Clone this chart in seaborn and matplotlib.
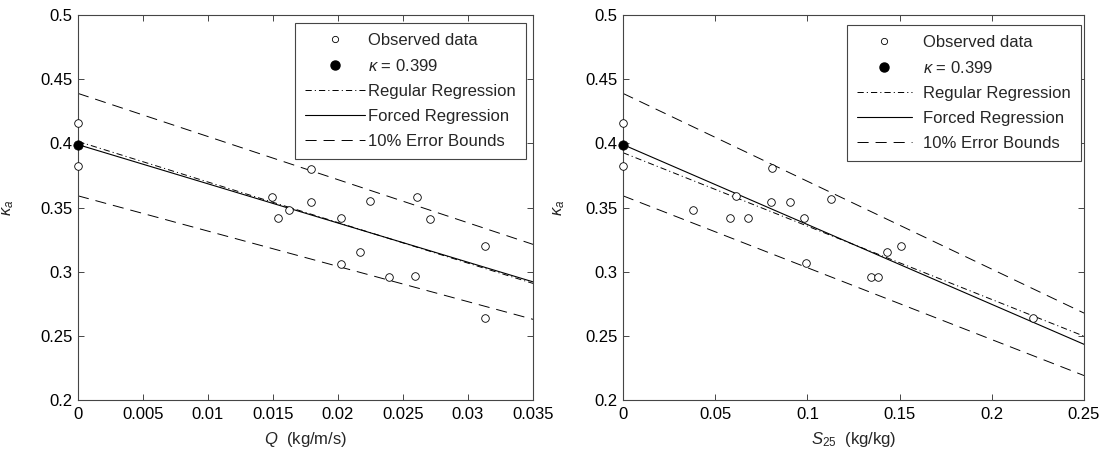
import numpy as np
import matplotlib
matplotlib.use("Agg")
import matplotlib.pyplot as plt
from matplotlib.lines import Line2D
from matplotlib.ticker import FormatStrFormatter
import seaborn as sns

# Reference von Karman value and relative error band
kappa_ref = 0.399
err_frac = 0.10

# Apparent kappa against saltation flux Q
q_flux = [0.0, 0.0, 0.0149, 0.0154, 0.0162, 0.0179, 0.0179, 0.0202, 0.0202,
          0.0217, 0.0225, 0.0239, 0.0259, 0.0261, 0.0271, 0.0313, 0.0313]
kappa_q = [0.416, 0.382, 0.358, 0.342, 0.348, 0.380, 0.354, 0.342, 0.306,
           0.315, 0.355, 0.296, 0.297, 0.358, 0.341, 0.320, 0.264]

# Apparent kappa against mass ratio S25
s25 = [0.0, 0.0, 0.0382, 0.0578, 0.0612, 0.0678, 0.0808, 0.0801, 0.0904,
       0.0984, 0.0991, 0.1127, 0.1346, 0.1382, 0.1431, 0.1505, 0.2225]
kappa_s = [0.416, 0.382, 0.348, 0.342, 0.359, 0.342, 0.381, 0.354, 0.354,
           0.342, 0.307, 0.357, 0.296, 0.296, 0.315, 0.320, 0.264]

y_ticks = [0.2, 0.25, 0.3, 0.35, 0.4, 0.45, 0.5]
q_ticks = [0, 0.005, 0.01, 0.015, 0.02, 0.025, 0.03, 0.035]
s_ticks = [0, 0.05, 0.1, 0.15, 0.2, 0.25]

sns.set_style("ticks")
plt.rcParams["font.family"] = ["Liberation Sans", "DejaVu Sans"]
plt.rcParams["mathtext.fontset"] = "custom"
plt.rcParams["mathtext.rm"] = "Liberation Sans"
plt.rcParams["mathtext.it"] = "Liberation Sans:italic"
plt.rcParams["lines.scale_dashes"] = False

SPINE = "#454545"
DASH = (8, 5)
DASHDOT = (4.5, 2.2, 0.8, 2.2)

fig = plt.figure(figsize=(11.03, 4.54), dpi=100)
ax_q = fig.add_axes([78 / 1103, 54 / 454, 455 / 1103, 385 / 454])
ax_s = fig.add_axes([623 / 1103, 54 / 454, 461 / 1103, 385 / 454])


def draw_panel(ax, x, y, xticks, xlabel, label_x, legend_anchor, hl, htp):
    x = np.asarray(x, float)
    y = np.asarray(y, float)
    ax.set_xlim(xticks[0], xticks[-1])
    ax.set_ylim(y_ticks[0], y_ticks[-1])

    # Ordinary least squares fit over the full axis range
    sns.regplot(x=x, y=y, ax=ax, scatter=False, ci=None, truncate=False,
                line_kws=dict(color="black", lw=0.7, dashes=DASHDOT))

    # Fit constrained to pass through the reference kappa at zero
    slope = np.sum(x * (y - kappa_ref)) / np.sum(x * x)
    xx = np.array(ax.get_xlim())
    forced = kappa_ref + slope * xx
    ax.plot(xx, forced, color="black", lw=0.8)
    ax.plot(xx, forced * (1 + err_frac), color="black", lw=0.7, dashes=DASH)
    ax.plot(xx, forced * (1 - err_frac), color="black", lw=0.7, dashes=DASH)

    sns.scatterplot(x=x, y=y, ax=ax, marker="o", s=30, facecolor="white",
                    edgecolor="black", linewidth=0.6, clip_on=False, zorder=5)
    sns.scatterplot(x=[0.0], y=[kappa_ref], ax=ax, marker="o", s=45,
                    color="black", edgecolor="black", clip_on=False, zorder=6)

    ax.set_xticks(xticks)
    ax.set_yticks(y_ticks)
    ax.xaxis.set_major_formatter(FormatStrFormatter("%g"))
    ax.yaxis.set_major_formatter(FormatStrFormatter("%g"))
    ax.tick_params(direction="in", length=4.5, width=0.7, colors=SPINE,
                   labelcolor="black", labelsize=12, top=True, right=True)
    ax.tick_params(axis="x", pad=5)
    ax.tick_params(axis="y", pad=4)
    for sp in ax.spines.values():
        sp.set_visible(True)
        sp.set_color(SPINE)
        sp.set_linewidth(0.8)

    ax.set_xlabel(xlabel, fontsize=12, labelpad=6)
    ax.set_ylabel(r"$\kappa_a$", fontsize=12)
    ax.yaxis.set_label_coords(label_x, 0.5)

    handles = [
        Line2D([], [], ls="none", marker="o", ms=4.5, mfc="white",
               mec="black", mew=0.6),
        Line2D([], [], ls="none", marker="o", ms=6.5, mfc="black",
               mec="black"),
        Line2D([], [], color="black", lw=0.7, dashes=DASHDOT),
        Line2D([], [], color="black", lw=0.8),
        Line2D([], [], color="black", lw=0.7, dashes=DASH),
    ]
    labels = ["Observed data", r"$\kappa$ = 0.399", "Regular Regression",
              "Forced Regression", "10% Error Bounds"]
    leg = ax.legend(handles, labels, loc="upper right",
                    bbox_to_anchor=legend_anchor,
                    bbox_transform=fig.transFigure, borderaxespad=0,
                    fontsize=12, frameon=True, fancybox=False, framealpha=1,
                    edgecolor=SPINE, handlelength=hl, handletextpad=htp,
                    labelspacing=0.6, borderpad=0.6)
    leg.get_frame().set_linewidth(0.8)


draw_panel(ax_q, q_flux, kappa_q, q_ticks, r"$Q$  (kg/m/s)", -0.136,
           (526 / 1103, 1 - 23 / 454), 3.6, 0.2)
draw_panel(ax_s, s25, kappa_s, s_ticks, r"$S_{\mathit{25}}$  (kg/kg)", -0.122,
           (1081 / 1103, 1 - 25 / 454), 3.3, 0.7)

fig.savefig("out.png", dpi=100)
